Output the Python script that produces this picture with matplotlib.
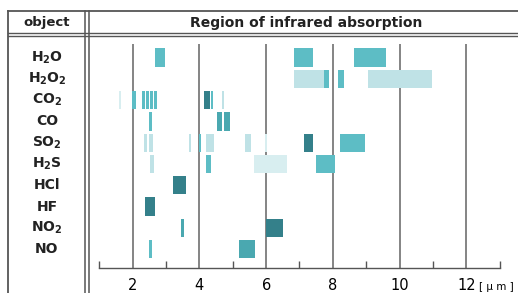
import matplotlib
matplotlib.use('Agg')
import matplotlib.pyplot as plt
from matplotlib.lines import Line2D

plt.rcParams['mathtext.default'] = 'regular'

# molecules (top to bottom) and their absorption bands: (start um, end um, shade)
molecules = ['H$_2$O', 'H$_2$O$_2$', 'CO$_2$', 'CO', 'SO$_2$',
             'H$_2$S', 'HCl', 'HF', 'NO$_2$', 'NO']

h2o = [(2.68, 2.98, 2), (6.84, 7.41, 2), (8.64, 9.60, 2)]
h2o2 = [(6.85, 7.72, 3), (7.72, 7.89, 2), (8.14, 8.32, 2), (9.04, 10.96, 3)]
co2 = [(1.60, 1.65, 4), (1.99, 2.10, 2), (2.28, 2.37, 2), (2.41, 2.50, 2),
       (2.53, 2.62, 2), (2.65, 2.73, 2), (4.14, 4.32, 0), (4.34, 4.41, 2),
       (4.69, 4.75, 3)]
co = [(2.49, 2.58, 2), (4.53, 4.67, 1), (4.75, 4.92, 1)]
so2 = [(2.34, 2.42, 3), (2.50, 2.62, 3), (3.69, 3.76, 3), (3.98, 4.05, 2),
       (4.19, 4.45, 3), (5.38, 5.56, 3), (5.96, 6.04, 4), (7.14, 7.41, 0),
       (8.22, 8.97, 2)]
h2s = [(2.52, 2.65, 3), (4.19, 4.35, 2), (5.65, 6.63, 4), (7.49, 8.05, 2)]
hcl = [(3.20, 3.59, 0)]
hf = [(2.38, 2.66, 0)]
no2 = [(3.45, 3.53, 1), (6.01, 6.52, 0)]
no = [(2.49, 2.58, 2), (5.20, 5.67, 1)]
bands = [h2o, h2o2, co2, co, so2, h2s, hcl, hf, no2, no]

shades = ['#34808a', '#4aa8b0', '#5dbdc5', '#bfe2e6', '#d8eef0']
grid_x = [2, 4, 6, 8, 10, 12]
odd_ticks = [1, 3, 5, 7, 9, 11, 13]

W, H = 518, 293
fig = plt.figure(figsize=(W / 100, H / 100), dpi=100)

def fx(px):
    return px / W

def fy(py):
    return 1 - py / H

# data axes: x from 1 um (px 99.3) to 13 um (px 499.7), y from px 40 to 268
ax = fig.add_axes([fx(99.3), fy(268), fx(499.7) - fx(99.3), fy(40) - fy(268)])
row_px = 21.3
ax.set_xlim(1, 13)
ax.set_ylim((268 - 57.5) / row_px, (40 - 57.5) / row_px)

for gx in grid_x:
    ax.plot([gx, gx], [(268 - 57.5) / row_px, (44 - 57.5) / row_px],
            color='#707070', lw=1.2, solid_capstyle='butt', zorder=1)

for i, row in enumerate(bands):
    for start, end, s in row:
        ax.barh(i, end - start, left=start, height=0.86,
                color=shades[s], edgecolor='none', zorder=2)

for sp in ['top', 'left', 'right']:
    ax.spines[sp].set_visible(False)
ax.spines['bottom'].set_color('#555555')
ax.spines['bottom'].set_linewidth(1.0)
ax.set_yticks([])
ax.set_xticks(grid_x)
ax.set_xticks(odd_ticks, minor=True)
ax.tick_params(axis='x', which='major', length=0, pad=7, labelsize=10.5)
ax.tick_params(axis='x', which='minor', direction='in', length=5,
               width=1.0, color='#555555')
ax.text(12.38, -0.06, '[ μ m ]', transform=ax.get_xaxis_transform(),
        fontsize=7.5, va='top', ha='left')
ax.patch.set_alpha(0)

# table frame
lc = '#555555'
fig.add_artist(Line2D([fx(8), fx(518)], [fy(10.5)] * 2, color=lc, lw=1.3,
                      transform=fig.transFigure))
for yy in [32.5, 35.5]:
    fig.add_artist(Line2D([fx(8), fx(518)], [fy(yy)] * 2, color=lc, lw=1.0,
                          transform=fig.transFigure))
for xx, lw in [(8.3, 1.3), (85.3, 1.1), (88.5, 1.1)]:
    fig.add_artist(Line2D([fx(xx)] * 2, [fy(10.5), fy(293)], color=lc, lw=lw,
                          transform=fig.transFigure))

fig.text(fx(47), fy(22.5), 'object', ha='center', va='center',
         fontsize=9.5, fontweight='bold', color='#222222')
fig.text(fx(306), fy(22.5), 'Region of infrared absorption', ha='center',
         va='center', fontsize=10, fontweight='bold', color='#222222')

for i, name in enumerate(molecules):
    fig.text(fx(47), fy(57.5 + row_px * i), name, ha='center', va='center',
             fontsize=10, fontweight='bold', color='#222222')

fig.savefig('out.png', dpi=100)
